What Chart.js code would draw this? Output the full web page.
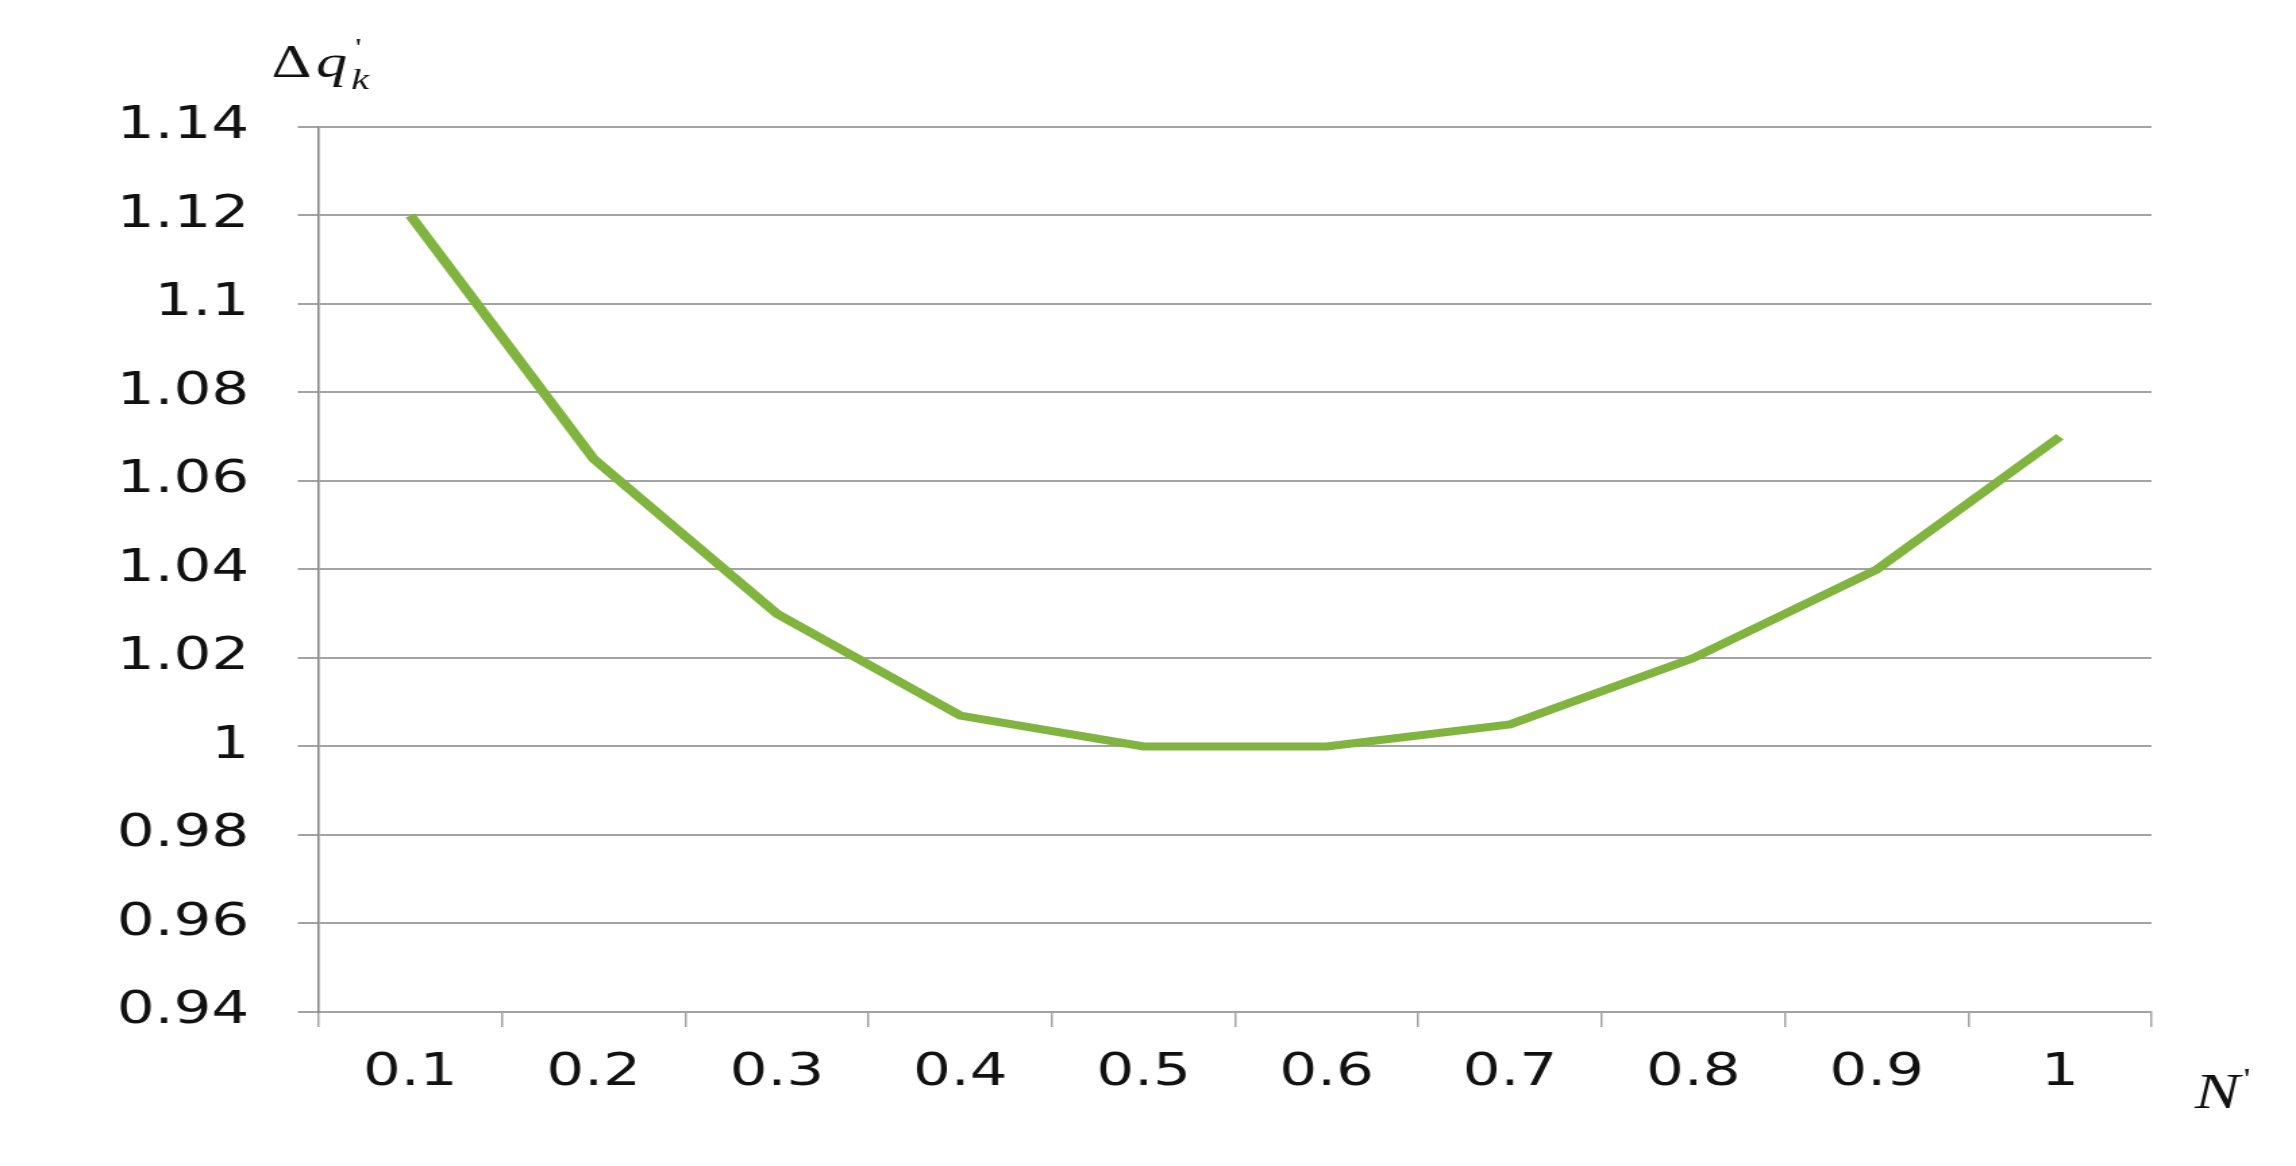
<!DOCTYPE html>
<html>
<head>
<meta charset="utf-8">
<script src="https://cdn.jsdelivr.net/npm/chart.js@4/dist/chart.umd.min.js"></script>
<style>
  html, body { margin: 0; padding: 0; background: #fff; }
  /* the original chart is stretched sideways, so the canvas is drawn narrower and scaled up */
  #chart { display: block; width: 2296px !important; height: 1166px !important; }
</style>
</head>
<body>
<canvas id="chart" width="1700" height="1166"></canvas>
<script>
// ===== Data =====
const categories = ["0.1", "0.2", "0.3", "0.4", "0.5", "0.6", "0.7", "0.8", "0.9", "1"];
const deltaQ = [1.12, 1.065, 1.03, 1.007, 1.0, 1.0, 1.005, 1.02, 1.04, 1.07];
const yTicks = [0.94, 0.96, 0.98, 1.0, 1.02, 1.04, 1.06, 1.08, 1.1, 1.12, 1.14];
const yTickLabels = ["0.94", "0.96", "0.98", "1", "1.02", "1.04", "1.06", "1.08", "1.1", "1.12", "1.14"];

const gridColor = "#a3a3a3";
const tickFont = { family: "'DejaVu Sans', Verdana, sans-serif", size: 44 };

// ===== Axis titles: Δq'_k on top, N' at the right =====
const axisTitles = {
  id: "axisTitles",
  afterDraw(chart) {
    const ctx = chart.ctx;
    ctx.save();
    ctx.fillStyle = "#111";
    ctx.textBaseline = "alphabetic";
    ctx.textAlign = "left";

    // Δ q ' k
    ctx.font = "46px 'Liberation Serif', serif";
    ctx.fillText("\u0394", 201, 77);
    ctx.font = "italic 46px 'Liberation Serif', serif";
    ctx.fillText("q", 234, 77);
    ctx.font = "26px 'Liberation Serif', serif";
    ctx.fillText("'", 263, 56);
    ctx.font = "italic 30px 'Liberation Serif', serif";
    ctx.fillText("k", 260, 89);

    // N '
    const right = chart.chartArea.right;
    ctx.font = "italic 50px 'Liberation Serif', serif";
    ctx.fillText("N", right + 32, 1108);
    ctx.font = "30px 'Liberation Serif', serif";
    ctx.fillText("'", right + 68, 1088);
    ctx.restore();
  }
};

// ===== Chart =====
const ctx = document.getElementById("chart").getContext("2d");
new Chart(ctx, {
  type: "line",
  data: {
    labels: categories,
    datasets: [{
      data: deltaQ,
      borderColor: "#80b43f",
      borderWidth: 8,
      pointRadius: 0,
      tension: 0,
      fill: false
    }]
  },
  options: {
    responsive: false,
    animation: false,
    devicePixelRatio: 1,
    layout: { padding: { top: 127, right: 107, bottom: 0, left: 0 } },
    plugins: { legend: { display: false }, tooltip: { enabled: false } },
    scales: {
      x: {
        offset: true,
        grid: {
          offset: true,
          drawOnChartArea: false,
          drawTicks: true,
          tickLength: 15,
          color: gridColor,
          lineWidth: 1.5
        },
        border: { color: gridColor, width: 2 },
        ticks: { font: tickFont, color: "#111", padding: 20, maxRotation: 0, autoSkip: false },
        afterFit(scale) { scale.height = 154; }
      },
      y: {
        min: 0.94,
        max: 1.14,
        afterBuildTicks(scale) { scale.ticks = yTicks.map(v => ({ value: v })); },
        grid: { color: gridColor, lineWidth: 2, tickLength: 15.5 },
        border: { color: "#858585", width: 1.6 },
        ticks: {
          font: tickFont,
          color: "#111",
          padding: 36,
          callback: (value, index) => yTickLabels[index]
        },
        afterFit(scale) { scale.width = 236; }
      }
    }
  },
  plugins: [axisTitles]
});
</script>
</body>
</html>
